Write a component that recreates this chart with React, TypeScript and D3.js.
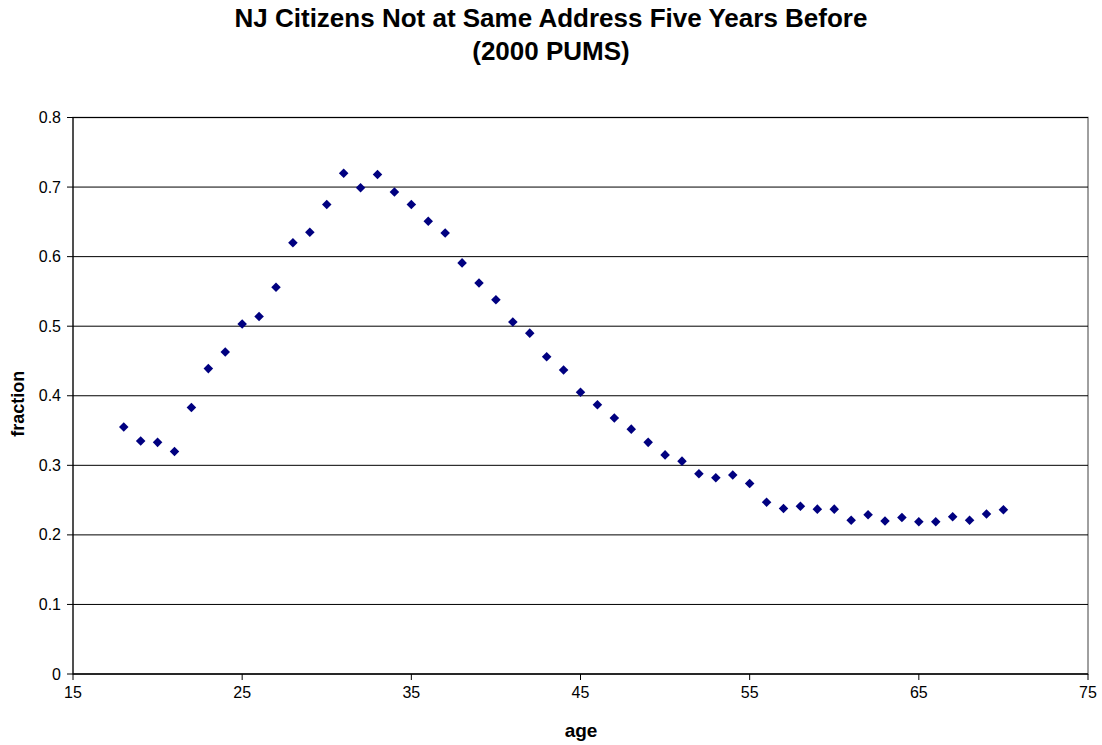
import React from "react";
import * as d3 from "d3";

// Share of NJ citizens not living at the same address five years earlier, by age
const ages: number[] = [
  18, 19, 20, 21, 22, 23, 24, 25, 26, 27, 28, 29, 30, 31, 32, 33, 34, 35, 36,
  37, 38, 39, 40, 41, 42, 43, 44, 45, 46, 47, 48, 49, 50, 51, 52, 53, 54, 55,
  56, 57, 58, 59, 60, 61, 62, 63, 64, 65, 66, 67, 68, 69, 70,
];
const fractions: number[] = [
  0.355, 0.335, 0.333, 0.32, 0.383, 0.439, 0.463, 0.503, 0.514, 0.556, 0.62,
  0.635, 0.675, 0.72, 0.699, 0.718, 0.693, 0.675, 0.651, 0.634, 0.591, 0.562,
  0.538, 0.506, 0.49, 0.456, 0.437, 0.405, 0.387, 0.368, 0.352, 0.333, 0.315,
  0.306, 0.288, 0.282, 0.286, 0.274, 0.247, 0.238, 0.241, 0.237, 0.237, 0.221,
  0.229, 0.22, 0.225, 0.219, 0.219, 0.226, 0.221, 0.23, 0.236,
];
const xTicks: number[] = [15, 25, 35, 45, 55, 65, 75];
const yTicks: number[] = [0, 0.1, 0.2, 0.3, 0.4, 0.5, 0.6, 0.7, 0.8];

const titleLines: string[] = [
  "NJ Citizens Not at Same Address Five Years Before",
  "(2000 PUMS)",
];

const W = 1102;
const H = 745;
const plot = { left: 73, right: 1088, top: 117.5, bottom: 674 };
const font = "'Liberation Sans', Arial, Helvetica, sans-serif";

export default function App() {
  const x = d3.scaleLinear().domain([15, 75]).range([plot.left, plot.right]);
  const y = d3.scaleLinear().domain([0, 0.8]).range([plot.bottom, plot.top]);
  const diamond = d3.symbol().type(d3.symbolDiamond2).size(58)();

  return (
    <svg
      width={W}
      height={H}
      style={{ position: "absolute", left: 0, top: 0, background: "#fff" }}
      fontFamily={font}
    >
      {titleLines.map((t, i) => (
        <text
          key={t}
          x={551}
          y={27 + i * 33}
          textAnchor="middle"
          fontSize={26}
          fontWeight="bold"
          fill="#000"
        >
          {t}
        </text>
      ))}

      {/* plot frame */}
      <rect
        x={plot.left}
        y={plot.top}
        width={plot.right - plot.left}
        height={plot.bottom - plot.top}
        fill="#fff"
        stroke="#808080"
        strokeWidth={1.5}
      />

      {/* horizontal gridlines */}
      {yTicks
        .filter((v) => v > 0)
        .map((v) => (
          <line
            key={"g" + v}
            x1={plot.left}
            x2={plot.right}
            y1={y(v)}
            y2={y(v)}
            stroke="#000"
            strokeWidth={1}
          />
        ))}

      {/* y axis */}
      <line x1={plot.left} x2={plot.left} y1={plot.top} y2={plot.bottom} stroke="#000" strokeWidth={1} />
      {yTicks.map((v) => (
        <g key={"y" + v}>
          <line x1={plot.left - 6} x2={plot.left} y1={y(v)} y2={y(v)} stroke="#000" />
          <text
            x={plot.left - 12}
            y={y(v) + 5.5}
            textAnchor="end"
            fontSize={16}
            fill="#000"
          >
            {d3.format("")(v)}
          </text>
        </g>
      ))}

      {/* x axis */}
      <line x1={plot.left} x2={plot.right} y1={plot.bottom} y2={plot.bottom} stroke="#000" strokeWidth={1.5} />
      {xTicks.map((v) => (
        <g key={"x" + v}>
          <line x1={x(v)} x2={x(v)} y1={plot.bottom} y2={plot.bottom + 6} stroke="#000" />
          <text x={x(v)} y={plot.bottom + 24} textAnchor="middle" fontSize={16} fill="#000">
            {v}
          </text>
        </g>
      ))}

      {/* axis titles */}
      <text x={581} y={737} textAnchor="middle" fontSize={19} fontWeight="bold" fill="#000">
        age
      </text>
      <text
        transform={`translate(24,${(plot.top + plot.bottom) / 2 + 8}) rotate(-90)`}
        textAnchor="middle"
        fontSize={18}
        fontWeight="bold"
        fill="#000"
      >
        fraction
      </text>

      {/* data points */}
      {ages.map((a, i) => (
        <path
          key={a}
          d={diamond as string}
          transform={`translate(${x(a)},${y(fractions[i])})`}
          fill="#000080"
        />
      ))}
    </svg>
  );
}
